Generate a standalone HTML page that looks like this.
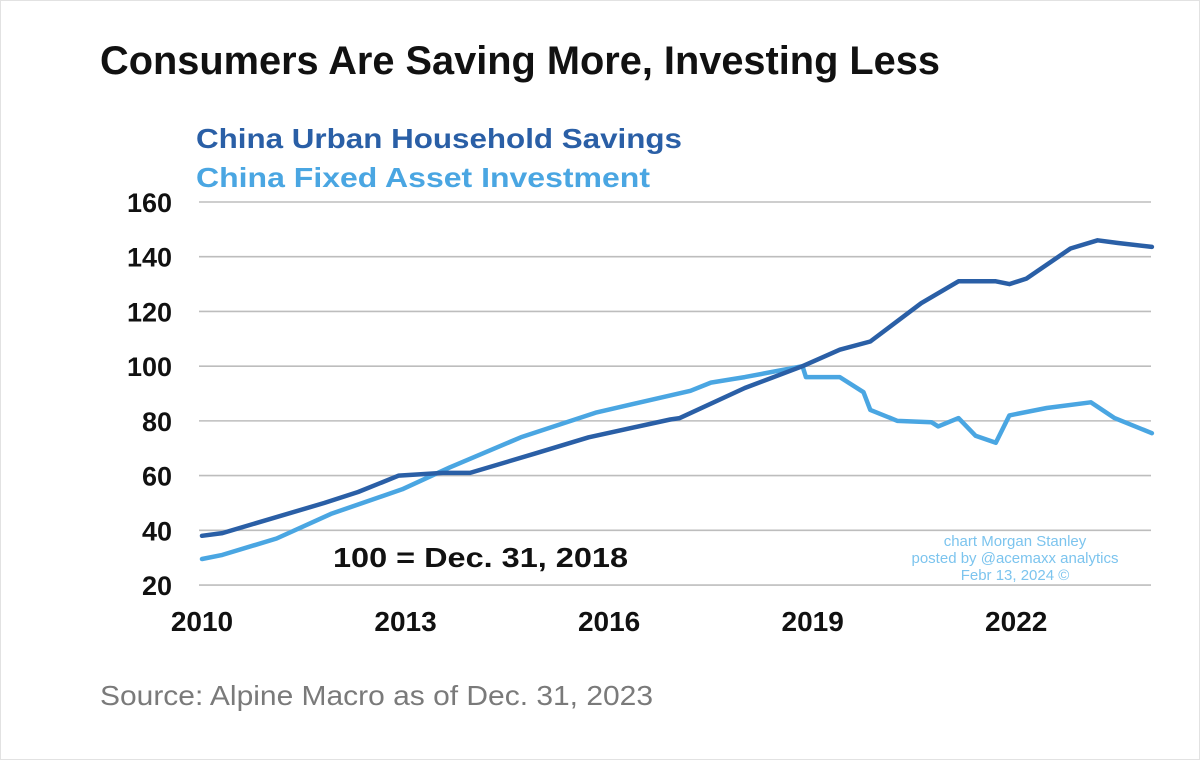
<!DOCTYPE html>
<html><head><meta charset="utf-8">
<style>
html,body{margin:0;padding:0;background:#fff;}
svg{display:block;font-family:"Liberation Sans",sans-serif;}
</style></head>
<body>
<svg id="chart" width="1200" height="760" viewBox="0 0 1200 760">
<rect x="0.5" y="0.5" width="1199" height="759" fill="#fff" stroke="#e2e2e2"/>
<text x="100" y="74" font-size="40" font-weight="bold" fill="#111" textLength="840" lengthAdjust="spacingAndGlyphs">Consumers Are Saving More, Investing Less</text>
<text x="196" y="148" font-size="28" font-weight="bold" fill="#2a5fa6" textLength="486" lengthAdjust="spacingAndGlyphs">China Urban Household Savings</text>
<text x="196" y="187" font-size="28" font-weight="bold" fill="#4aa6e2" textLength="454" lengthAdjust="spacingAndGlyphs">China Fixed Asset Investment</text>
<g id="grid"></g><g id="yticks"></g><g id="xticks"></g><g id="lines"></g>
<text x="333" y="567" font-size="28" font-weight="bold" fill="#111" textLength="295" lengthAdjust="spacingAndGlyphs">100 = Dec. 31, 2018</text>
<g font-size="15" fill="#7cc4ee" text-anchor="middle">
<text x="1015" y="546">chart Morgan Stanley</text>
<text x="1015" y="563">posted by @acemaxx analytics</text>
<text x="1015" y="580">Febr 13, 2024 ©</text>
</g>
<text x="100" y="705" font-size="28" fill="#7a7a7a" textLength="553" lengthAdjust="spacingAndGlyphs">Source: Alpine Macro as of Dec. 31, 2023</text>
</svg>
<script>
const yTicks=[20,40,60,80,100,120,140,160];
const xTicks=[2010,2013,2016,2019,2022];
const savDates=[2010,2010.3,2011.8,2012.3,2012.9,2013.55,2013.95,2014.9,2015.7,2016.9,2017.04,2018.0,2018.85,2019.4,2019.85,2020.6,2021.15,2021.7,2021.9,2022.15,2022.8,2023.2,2023.5,2024];
const savVals=[38,39,50,54,60,61,61,68,74,80.5,81,92,100,106,109,123,131,131,130,132,143,146,145,143.6];
const faiDates=[2010,2010.3,2011.1,2011.9,2012.95,2013.65,2014.7,2015.8,2017.2,2017.5,2018.0,2018.85,2018.9,2019.4,2019.75,2019.85,2020.25,2020.75,2020.85,2021.15,2021.4,2021.7,2021.9,2022.45,2023.1,2023.45,2024];
const faiVals=[29.5,31,37,46,55,63,74,83,91,94,96,100,96,96,90.5,84,80,79.5,78,81,74.6,72,82,84.7,86.8,81,75.5];
const NS='http://www.w3.org/2000/svg';
const X=d=>202+(d-2010)*67.85;
const Y=v=>202+(160-v)*2.736;
function mk(tag,attrs,parent){const e=document.createElementNS(NS,tag);for(const k in attrs)e.setAttribute(k,attrs[k]);document.getElementById(parent).appendChild(e);return e;}
yTicks.forEach(v=>{
  const l=mk('line',{x1:199,x2:1151,y1:Y(v),y2:Y(v),stroke:'#bdbdbd','stroke-width':1.6},'grid');
  
  
  const t=mk('text',{x:172,y:Y(v)+10,'text-anchor':'end','font-size':27,'font-weight':'bold',fill:'#111'},'yticks');
  t.textContent=v;
  
  
});
xTicks.forEach(d=>{
  const t=mk('text',{x:X(d),y:631,'text-anchor':'middle','font-size':28,'font-weight':'bold',fill:'#111'},'xticks');
  t.textContent=d;
  
  
});
function line(dates,vals,color,name){
  const p=dates.map((d,i)=>(i?'L':'M')+X(d).toFixed(1)+','+Y(vals[i]).toFixed(1)).join('');
  const e=mk('path',{d:p,fill:'none',stroke:color,'stroke-width':4.5,'stroke-linejoin':'round','stroke-linecap':'round'},'lines');
  
  
}
line(faiDates,faiVals,'#4aa6e2','line-fixed-asset-investment');
line(savDates,savVals,'#2a5fa6','line-household-savings');
</script>
</body></html>
